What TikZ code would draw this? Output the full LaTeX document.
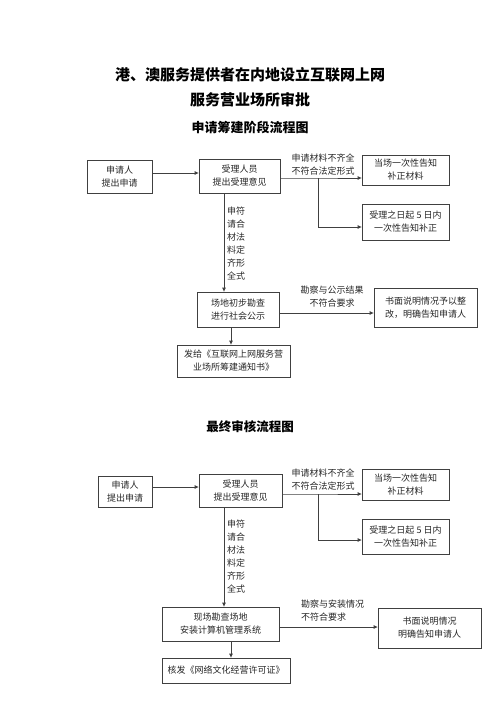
\documentclass[tikz,border=0pt]{standalone}
\usepackage{fontspec}
\newfontfamily\cjk{Noto Sans CJK SC}
\usetikzlibrary{arrows.meta}

\begin{document}
\begin{tikzpicture}[x=1pt,y=-1pt,
        kuang/.style={draw=black!75, line width=0.8pt, align=center, inner sep=0pt, font=\cjk\fontsize{9}{13}\selectfont, text=black!85},
        xian/.style={draw=black!75, line width=0.8pt},
        jian/.style={xian, -{Triangle[length=4pt,width=3.5pt]}},
        zi/.style={font=\cjk\fontsize{9}{13}\selectfont, text=black!85, inner sep=0pt},
        biaoti/.style={font=\cjk\bfseries\fontsize{15}{18}\selectfont, inner sep=0pt}]
        \useasboundingbox (0,0) rectangle (500,707);

        % Заголовки
        \node[biaoti] (t1) at (250,75)  {港、澳服务提供者在内地设立互联网上网};
        \node[biaoti] (t2) at (250,100) {服务营业场所审批};
        \node[biaoti, font=\cjk\bfseries\fontsize{13}{16}\selectfont] (t3) at (250,127) {申请筹建阶段流程图};
        \node[biaoti, font=\cjk\bfseries\fontsize{12.5}{15}\selectfont] (t4) at (250,427) {最终审核流程图};

        % Первая схема: узлы
        \node[kuang, minimum width=65,  minimum height=33] (sq1) at (119.5,176.5) {申请人\\提出申请};
        \node[kuang, minimum width=81,  minimum height=34] (sl1) at (239.5,176)   {受理人员\\提出受理意见};
        \node[kuang, minimum width=87,  minimum height=30] (dc1) at (405.5,170)   {当场一次性告知\\补正材料};
        \node[kuang, minimum width=87,  minimum height=36] (bz1) at (405.5,222)   {受理之日起 5 日内\\一次性告知补正};
        \node[kuang, minimum width=82,  minimum height=35] (kc1) at (238,309.5)   {场地初步勘查\\进行社会公示};
        \node[kuang, minimum width=103, minimum height=39] (sm1) at (425.5,307.5) {书面说明情况予以整\\改，明确告知申请人};
        \node[kuang, minimum width=113, minimum height=32] (fg1) at (233.5,361)   {发给《互联网上网服务营\\业场所筹建通知书》};

        \coordinate (j1)  at (318,178);
        \coordinate (j1b) at (318,227);
        \coordinate (v1)  at (224,0);
        \coordinate (w1)  at (231,0);

        % Первая схема: линии
        \draw[jian] ([yshift=3.5pt]sq1.east) -- ([yshift=3.5pt]sq1.east -| sl1.west);
        \draw[jian] ([yshift=-2pt]sl1.east) -- (j1) -- (j1 -| dc1.west);
        \draw[jian] (j1) -- (j1b) -- (j1b -| bz1.west);
        \draw[jian] (sl1.south -| v1) -- (kc1.north -| v1);
        \draw[jian] ([yshift=-3.5pt]kc1.east) -- ([yshift=-3.5pt]kc1.east -| sm1.west);
        \draw[jian] (kc1.south -| w1) -- (fg1.north -| w1);

        % Первая схема: подписи
        \node[zi, align=center] (l11) at (323,165) {申请材料不齐全\\不符合法定形式};
        \node[zi, align=left, anchor=north west] (l12) at (227,207) {申符\\请合\\材法\\料定\\齐形\\全式};
        \node[zi, align=center] (l13) at (332,297) {勘察与公示结果\\不符合要求};

        % Вторая схема: узлы
        \node[kuang, minimum width=54,  minimum height=31] (sq2) at (125,491.5)   {申请人\\提出申请};
        \node[kuang, minimum width=83,  minimum height=33] (sl2) at (240.5,490.5) {受理人员\\提出受理意见};
        \node[kuang, minimum width=87,  minimum height=31] (dc2) at (405.5,484.5) {当场一次性告知\\补正材料};
        \node[kuang, minimum width=87,  minimum height=35] (bz2) at (405.5,536.5) {受理之日起 5 日内\\一次性告知补正};
        \node[kuang, minimum width=117, minimum height=34] (kc2) at (220.5,624)   {现场勘查场地\\安装计算机管理系统};
        \node[kuang, minimum width=103, minimum height=40] (sm2) at (429.5,628)   {书面说明情况\\明确告知申请人};
        \node[kuang, minimum width=128, minimum height=25] (hf2) at (226,670.5)   {核发《网络文化经营许可证》};

        \coordinate (j2)  at (318,494);
        \coordinate (j2b) at (318,540);

        % Вторая схема: линии
        \draw[jian] ([yshift=4.5pt]sq2.east) -- ([yshift=4.5pt]sq2.east -| sl2.west);
        \draw[jian] ([yshift=-3.5pt]sl2.east) -- (j2) -- (j2 -| dc2.west);
        \draw[jian] (j2) -- (j2b) -- (j2b -| bz2.west);
        \draw[jian] (sl2.south -| v1) -- (kc2.north -| v1);
        \draw[jian] ([yshift=-3pt]kc2.east) -- ([yshift=-3pt]kc2.east -| sm2.west);
        \draw[jian] (kc2.south -| w1) -- (hf2.north -| w1);

        % Вторая схема: подписи
        \node[zi, align=center] (l21) at (323,480) {申请材料不齐全\\不符合法定形式};
        \node[zi, align=left, anchor=north west] (l22) at (227,520) {申符\\请合\\材法\\料定\\齐形\\全式};
        \node[zi, anchor=west] (l23) at (301,604) {勘察与安装情况};
        \node[zi, anchor=west] (l24) at (301,617) {不符合要求};
    \end{tikzpicture}
\end{document}
